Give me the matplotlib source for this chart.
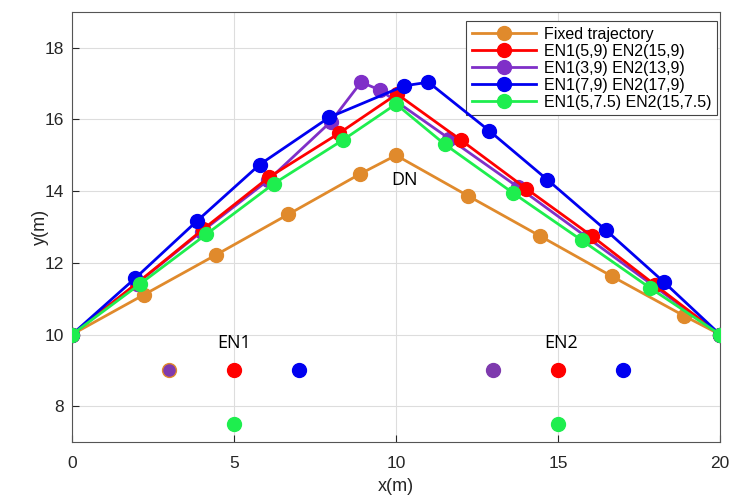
import matplotlib.pyplot as plt

# trajectories (x, y in metres)
fixed_x = [0, 2.22, 4.44, 6.67, 8.89, 10, 12.22, 14.44, 16.67, 18.89, 20]
fixed_y = [10, 11.11, 12.22, 13.35, 14.48, 15.0, 13.87, 12.75, 11.62, 10.52, 10]

red_x = [0, 2.03, 4.05, 6.08, 8.25, 10.03, 12.01, 14.02, 16.04, 18.0, 20]
red_y = [10, 11.45, 12.94, 14.39, 15.62, 16.71, 15.42, 14.07, 12.75, 11.38, 10]

purple_x = [0, 2.0, 4.0, 6.05, 7.99, 8.92, 9.51, 11.65, 13.77, 15.88, 17.95, 20]
purple_y = [10, 11.42, 12.87, 14.3, 15.94, 17.04, 16.82, 15.46, 14.11, 12.72, 11.36, 10]

blue_x = [0, 1.95, 3.86, 5.79, 7.94, 10.26, 11.0, 12.87, 14.67, 16.48, 18.26, 20]
blue_y = [10, 11.57, 13.17, 14.74, 16.06, 16.94, 17.04, 15.69, 14.32, 12.91, 11.47, 10]

green_x = [0, 2.1, 4.15, 6.23, 8.35, 10.0, 11.5, 13.61, 15.73, 17.84, 20]
green_y = [10, 11.41, 12.8, 14.21, 15.42, 16.43, 15.31, 13.95, 12.63, 11.3, 10]

# anchor nodes
en_purple_x = [3, 13]
en_purple_y = [9, 9]
en_red_x = [5, 15]
en_red_y = [9, 9]
en_blue_x = [7, 17]
en_blue_y = [9, 9]
en_green_x = [5, 15]
en_green_y = [7.5, 7.5]

labels = ['Fixed trajectory', 'EN1(5,9) EN2(15,9)', 'EN1(3,9) EN2(13,9)',
          'EN1(7,9) EN2(17,9)', 'EN1(5,7.5) EN2(15,7.5)']

c_orange = '#E08A2C'
c_red = '#FF0000'
c_purple = '#7F2FC8'
c_en_purple = '#7E3AAE'
c_blue = '#0000F0'
c_green = '#1EEE4E'

plt.rcParams['font.family'] = ['Liberation Sans', 'DejaVu Sans']

fig = plt.figure(figsize=(7.31, 4.98), dpi=100)
ax = fig.add_axes([0.0985, 0.1124, 0.8865, 0.8636])

lw = 2.0
ms = 10
h_or, = ax.plot(fixed_x, fixed_y, '-o', color=c_orange, lw=lw, ms=ms, zorder=3, label=labels[0])
h_pu, = ax.plot(purple_x, purple_y, '-o', color=c_purple, lw=lw, ms=ms, zorder=4, label=labels[2])
h_re, = ax.plot(red_x, red_y, '-o', color=c_red, lw=lw, ms=ms, zorder=5, label=labels[1])
h_bl, = ax.plot(blue_x, blue_y, '-o', color=c_blue, lw=lw, ms=ms, zorder=6, label=labels[3])
h_gr, = ax.plot(green_x, green_y, '-o', color=c_green, lw=lw, ms=ms, zorder=7, label=labels[4])

# EN1 purple node has an orange rim in the original
ax.plot(en_purple_x[:1], en_purple_y[:1], 'o', color=c_en_purple, mec=c_orange, ms=ms, zorder=3)
ax.plot(en_purple_x[1:], en_purple_y[1:], 'o', color=c_en_purple, ms=ms, zorder=3)
ax.plot(en_red_x, en_red_y, 'o', color=c_red, ms=ms, ls='none', zorder=3)
ax.plot(en_blue_x, en_blue_y, 'o', color=c_blue, ms=ms, ls='none', zorder=3)
ax.plot(en_green_x, en_green_y, 'o', color=c_green, ms=ms, ls='none', zorder=3)

txt_font = ['Open Sans', 'DejaVu Sans']
ax.text(10.25, 14.3, 'DN', ha='center', va='center', fontsize=13, family=txt_font)
ax.text(5.0, 9.75, 'EN1', ha='center', va='center', fontsize=13, family=txt_font)
ax.text(15.1, 9.75, 'EN2', ha='center', va='center', fontsize=13, family=txt_font)

ax.set_xlim(0, 20)
ax.set_ylim(7, 19)
ax.set_xticks([0, 5, 10, 15, 20])
ax.set_yticks([8, 10, 12, 14, 16, 18])
ax.tick_params(direction='in', labelsize=12.5, colors='#262626', length=5)
ax.tick_params(axis='x', pad=10)
ax.tick_params(axis='y', pad=6)
ax.grid(True, color='#DDDDDD', lw=0.8)
ax.set_axisbelow(True)
for s in ax.spines.values():
    s.set_color('#555555')
ax.set_xlabel('x(m)', fontsize=13, color='#262626', labelpad=5)
ax.set_ylabel('y(m)', fontsize=13, color='#262626', labelpad=-3)

leg = ax.legend(handles=[h_or, h_re, h_pu, h_bl, h_gr], loc='upper right',
                fontsize=11.5, fancybox=False, edgecolor='#444444', framealpha=1,
                labelspacing=0.12, handlelength=4.0, handletextpad=0.5,
                borderpad=0.35, borderaxespad=0, bbox_to_anchor=(0.995, 0.978))
leg.get_frame().set_linewidth(0.8)

fig.savefig('out.png', dpi=100)
